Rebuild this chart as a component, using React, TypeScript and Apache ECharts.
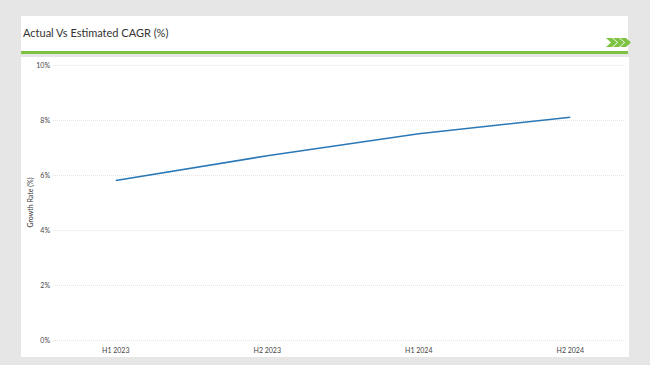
import React, { useEffect, useRef } from "react";
import * as echarts from "echarts";

const categories = ["H1 2023", "H2 2023", "H1 2024", "H2 2024"];
const growthRate = [5.8, 6.7, 7.5, 8.1];
const yTicks = { min: 0, max: 10, interval: 2 };
const titleText = "Actual Vs Estimated CAGR (%)";
const yAxisName = "Growth Rate (%)";

export default function App() {
  const ref = useRef<HTMLDivElement>(null);
  useEffect(() => {
    document.body.style.margin = "0";
    const chart = echarts.init(ref.current!, null, { renderer: "svg" });
    const green = "#7dc242";
    chart.setOption({
      animation: false,
      backgroundColor: "#e6e6e6",
      graphic: [
        { type: "rect", shape: { x: 21, y: 16, width: 607, height: 36 }, style: { fill: "#ffffff" }, z: 0 },
        { type: "rect", shape: { x: 21, y: 51, width: 607, height: 3 }, style: { fill: green }, z: 1 },
        { type: "rect", shape: { x: 21, y: 57, width: 608, height: 300 }, style: { fill: "#ffffff" }, z: 0 },
        {
          type: "text", x: 23, y: 32, z: 2,
          style: { text: titleText, fontFamily: "Lato", fontSize: 11, fill: "#333", verticalAlign: "middle" },
        },
        ...[0, 7, 14].map((dx) => ({
          type: "polygon", z: 2,
          shape: { points: [[606 + dx, 38], [612 + dx, 38], [617 + dx, 42.5], [612 + dx, 47], [606 + dx, 47], [611 + dx, 42.5]] },
          style: { fill: green },
        })),
      ],
      grid: [
        { left: 53, right: 25, top: 65, bottom: 25 },
        { left: 40, width: 606, top: 65, bottom: 25 },
      ],
      xAxis: [
        { type: "category", gridIndex: 0, data: categories, show: false },
        {
          type: "category", gridIndex: 1, data: categories, boundaryGap: true,
          axisLine: { show: false }, axisTick: { show: false },
          axisLabel: { fontSize: 7, color: "#444", margin: 6, fontFamily: "Lato" },
        },
      ],
      yAxis: [
        {
          type: "value", gridIndex: 0, min: yTicks.min, max: yTicks.max, interval: yTicks.interval,
          name: yAxisName, nameLocation: "middle", nameGap: 20, nameMoveOverlap: false,
          nameTextStyle: { fontSize: 7, color: "#333", fontFamily: "Lato" },
          axisLine: { show: false }, axisTick: { show: false },
          axisLabel: { formatter: "{value}%", fontSize: 7, color: "#444", margin: 3, fontFamily: "Lato" },
          splitLine: { lineStyle: { type: "dotted", color: "#e4e4e4", width: 1 } },
        },
        {
          type: "value", gridIndex: 1, min: yTicks.min, max: yTicks.max, interval: yTicks.interval,
          show: false, splitLine: { show: false },
        },
      ],
      series: [
        {
          type: "line", xAxisIndex: 1, yAxisIndex: 1, data: growthRate,
          symbol: "none", lineStyle: { color: "#2b78b6", width: 1.6 },
        },
      ],
    });
    return () => chart.dispose();
  }, []);
  return <div ref={ref} style={{ position: "fixed", left: 0, top: 0, width: 650, height: 365 }} />;
}
